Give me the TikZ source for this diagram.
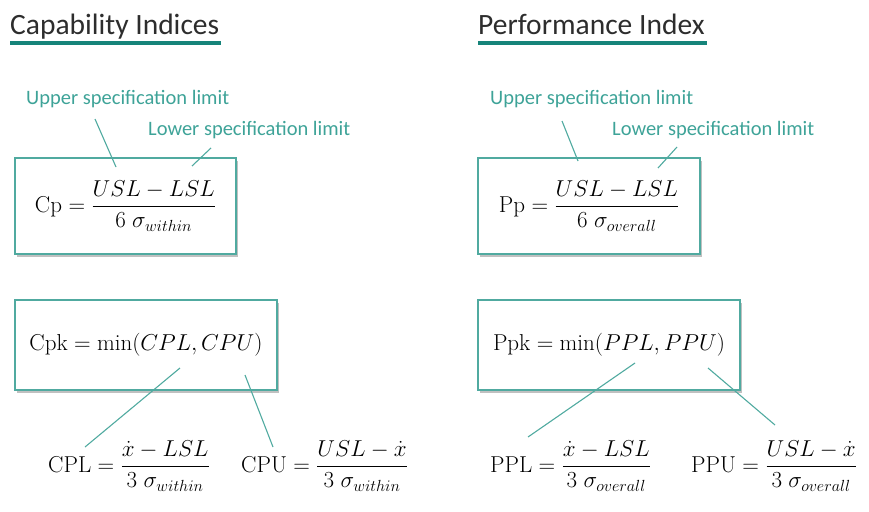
\documentclass[tikz,border=0pt]{standalone}
\usepackage{fix-cm}
\usepackage{fontspec}
\usepackage{amsmath}
\newfontfamily\headfont{Carlito}
\usetikzlibrary{shadows}
\definecolor{tealdark}{RGB}{22,132,122}
\definecolor{teallab}{RGB}{62,163,152}
\definecolor{tealline}{RGB}{80,170,160}
\definecolor{headtxt}{RGB}{45,45,45}
\tikzset{
  heading/.style={anchor=base west, inner sep=0pt, text=headtxt, font=\headfont\fontsize{29.5}{32}\selectfont},
  headline/.style={draw=tealdark, line width=4pt},
  speclabel/.style={anchor=base west, inner sep=0pt, text=teallab, font=\headfont\fontsize{20.5}{23}\selectfont},
  fbox/.style={draw=tealline, line width=1.4pt, fill=white, inner sep=0pt,
    drop shadow={shadow xshift=2pt, shadow yshift=-2.5pt, fill=black!55, opacity=0.45},
    font=\fontsize{23}{27}\selectfont},
  formula/.style={inner sep=0pt, font=\fontsize{23}{27}\selectfont},
  conn/.style={draw=tealline, line width=1.1pt},
}
\begin{document}
\begin{tikzpicture}[x=1pt,y=-1pt]
\useasboundingbox (0,0) rectangle (869,511);
% headings
\node[heading] (hcap) at (10,35) {Capability Indices};
\node[heading] (hperf) at (478,35) {Performance Index};
\draw[headline] (hcap.base west) ++(0,8.5) coordinate (ul1) -- ++(211,0);
\draw[headline] (hperf.base west) ++(0,8.5) coordinate (ul2) -- ++(229,0);
% spec labels
\node[speclabel] (uslL) at (26,104) {Upper specification limit};
\node[speclabel] (lslL) at (148,135) {Lower specification limit};
\node[speclabel] (uslR) at (490,104) {Upper specification limit};
\node[speclabel] (lslR) at (612,135) {Lower specification limit};
% boxes
\node[fbox, minimum width=221pt, minimum height=96pt] (cp) at (125.5,206)
  {$\mathrm{Cp}=\dfrac{USL-LSL}{6\;\sigma_{within}}$};
\node[fbox, minimum width=222pt, minimum height=96pt] (pp) at (589,206)
  {$\mathrm{Pp}=\dfrac{USL-LSL}{6\;\sigma_{overall}}$};
\node[fbox, minimum width=262pt, minimum height=90pt] (cpk) at (146,345)
  {$\mathrm{Cpk}=\min(CPL,CPU)$};
\node[fbox, minimum width=262pt, minimum height=90pt] (ppk) at (609,345)
  {$\mathrm{Ppk}=\min(PPL,PPU)$};
% sub formulas
\node[formula, anchor=west] (cpl) at (48,466)
  {$\mathrm{CPL}=\dfrac{\dot{x}-LSL}{3\;\sigma_{within}}$};
\node[formula, anchor=west] (cpu) at (241,466)
  {$\mathrm{CPU}=\dfrac{USL-\dot{x}}{3\;\sigma_{within}}$};
\node[formula, anchor=west] (ppl) at (490,466)
  {$\mathrm{PPL}=\dfrac{\dot{x}-LSL}{3\;\sigma_{overall}}$};
\node[formula, anchor=west] (ppu) at (691,466)
  {$\mathrm{PPU}=\dfrac{USL-\dot{x}}{3\;\sigma_{overall}}$};
% connector end points
\coordinate (a1) at (95,119);  \coordinate (a2) at (116,167);
\coordinate (b1) at (211,148); \coordinate (b2) at (192,166);
\coordinate (c1) at (562,121); \coordinate (c2) at (578,161);
\coordinate (d1) at (677,147); \coordinate (d2) at (658,168);
\coordinate (e1) at (180,368); \coordinate (e2) at (85,447);
\coordinate (f1) at (245,375); \coordinate (f2) at (273,447);
\coordinate (g1) at (635,363); \coordinate (g2) at (528,437);
\coordinate (h1) at (708,368); \coordinate (h2) at (775,425);
\draw[conn] (a1) -- (a2);
\draw[conn] (b1) -- (b2);
\draw[conn] (c1) -- (c2);
\draw[conn] (d1) -- (d2);
\draw[conn] (e1) -- (e2);
\draw[conn] (f1) -- (f2);
\draw[conn] (g1) -- (g2);
\draw[conn] (h1) -- (h2);
\end{tikzpicture}
\end{document}
